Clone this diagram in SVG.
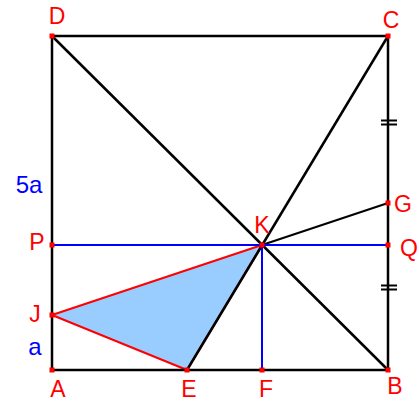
<svg xmlns="http://www.w3.org/2000/svg" width="419" height="401" viewBox="0 0 419 401">
<style>
.k{stroke:#000;stroke-width:2.5;fill:none}
.t{stroke:#000;stroke-width:2;fill:none}
.b{stroke:#0000ff;stroke-width:2;fill:none}
.r{stroke:#ff0000;stroke-width:2}
.pt{fill:#ff0000}
.lbl{font-family:"Liberation Sans",Arial,sans-serif;font-size:23px;fill:#ff0000;text-anchor:middle}
.bl{font-family:"Liberation Sans",Arial,sans-serif;font-size:24px;fill:#0000ff;text-anchor:middle}
</style>
<rect width="419" height="401" fill="#fff"/>
<g id="triangle">
<polygon points="52,315 262,245 187,370" fill="#99ccff" class="r" stroke-linejoin="round"/>
</g>
<g id="connectors">
<rect x="52" y="36" width="336" height="334" class="k"/>
<line x1="52" y1="36" x2="388" y2="370" class="k"/>
<line x1="388" y1="36" x2="187" y2="370" class="k"/>
<line x1="262" y1="245" x2="388" y2="203" class="t"/>
<line x1="52" y1="245" x2="388" y2="245" class="b"/>
<line x1="262" y1="245" x2="262" y2="370" class="b"/>
<line x1="381" y1="120.5" x2="397" y2="120.5" class="t"/>
<line x1="381" y1="124.5" x2="397" y2="124.5" class="t"/>
<line x1="381" y1="285.5" x2="397" y2="285.5" class="t"/>
<line x1="381" y1="289.5" x2="397" y2="289.5" class="t"/>
</g>
<g id="D"><rect class="pt" x="49.5" y="33.5" width="5" height="5"/><text class="lbl" x="57" y="24">D</text></g>
<g id="C"><rect class="pt" x="385.5" y="33.5" width="5" height="5"/><text class="lbl" x="391" y="28">C</text></g>
<g id="P"><rect class="pt" x="49.5" y="242.5" width="5" height="5"/><text class="lbl" x="37" y="250">P</text></g>
<g id="K"><rect class="pt" x="259.5" y="242.5" width="5" height="5"/><text class="lbl" x="262" y="233">K</text></g>
<g id="G"><rect class="pt" x="385.5" y="200.5" width="5" height="5"/><text class="lbl" x="403" y="212">G</text></g>
<g id="Q"><rect class="pt" x="385.5" y="242.5" width="5" height="5"/><text class="lbl" x="409" y="256">Q</text></g>
<g id="J"><rect class="pt" x="49.5" y="312.5" width="5" height="5"/><text class="lbl" x="35" y="322">J</text></g>
<g id="A"><rect class="pt" x="49.5" y="367.5" width="5" height="5"/><text class="lbl" x="58" y="397">A</text></g>
<g id="E"><rect class="pt" x="184.5" y="367.5" width="5" height="5"/><text class="lbl" x="189" y="397">E</text></g>
<g id="F"><rect class="pt" x="259.5" y="367.5" width="5" height="5"/><text class="lbl" x="266" y="397">F</text></g>
<g id="B"><rect class="pt" x="385.5" y="367.5" width="5" height="5"/><text class="lbl" x="395" y="394">B</text></g>
<g id="labels"><text class="bl" x="29" y="193">5a</text><text class="bl" x="35" y="355">a</text></g>
</svg>
